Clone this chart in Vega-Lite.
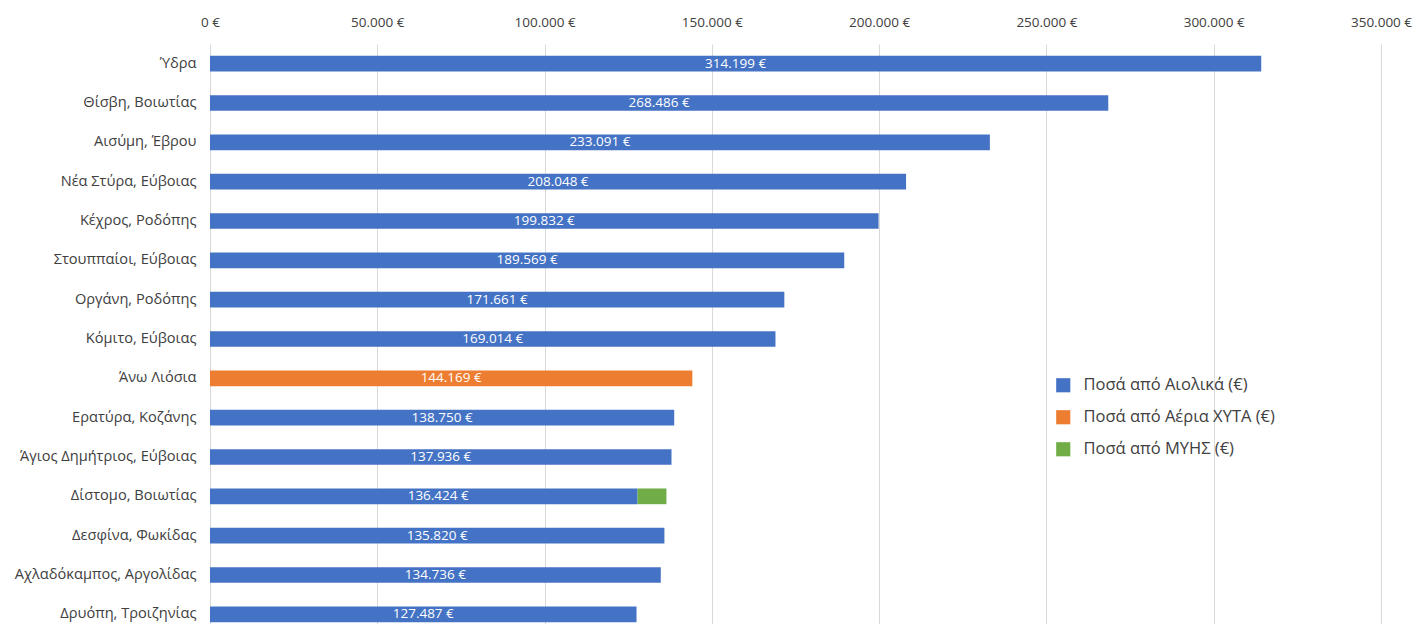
{
  "$schema": "https://vega.github.io/schema/vega-lite/v6.json",
  "autosize": {"type": "none"},
  "padding": {"left": 210, "top": 44, "right": 35, "bottom": 0},
  "width": 1171,
  "height": 590,
  "background": "white",
  "config": {
    "locale": {"number": {"decimal": ",", "thousands": ".", "grouping": [3], "currency": ["", " €"]}},
    "view": {"stroke": null},
    "font": "Open Sans"
  },
  "data": {
    "values": [
      {"place": "Ύδρα", "series": "Ποσά από Αιολικά (€)", "value": 314199},
      {"place": "Θίσβη, Βοιωτίας", "series": "Ποσά από Αιολικά (€)", "value": 268486},
      {"place": "Αισύμη, Έβρου", "series": "Ποσά από Αιολικά (€)", "value": 233091},
      {"place": "Νέα Στύρα, Εύβοιας", "series": "Ποσά από Αιολικά (€)", "value": 208048},
      {"place": "Κέχρος, Ροδόπης", "series": "Ποσά από Αιολικά (€)", "value": 199832},
      {"place": "Στουππαίοι, Εύβοιας", "series": "Ποσά από Αιολικά (€)", "value": 189569},
      {"place": "Οργάνη, Ροδόπης", "series": "Ποσά από Αιολικά (€)", "value": 171661},
      {"place": "Κόμιτο, Εύβοιας", "series": "Ποσά από Αιολικά (€)", "value": 169014},
      {"place": "Άνω Λιόσια", "series": "Ποσά από Αέρια ΧΥΤΑ (€)", "value": 144169},
      {"place": "Ερατύρα, Κοζάνης", "series": "Ποσά από Αιολικά (€)", "value": 138750},
      {"place": "Άγιος Δημήτριος, Εύβοιας", "series": "Ποσά από Αιολικά (€)", "value": 137936},
      {"place": "Δίστομο, Βοιωτίας", "series": "Ποσά από Αιολικά (€)", "value": 127800},
      {"place": "Δίστομο, Βοιωτίας", "series": "Ποσά από ΜΥΗΣ (€)", "value": 8624},
      {"place": "Δεσφίνα, Φωκίδας", "series": "Ποσά από Αιολικά (€)", "value": 135820},
      {"place": "Αχλαδόκαμπος, Αργολίδας", "series": "Ποσά από Αιολικά (€)", "value": 134736},
      {"place": "Δρυόπη, Τροιζηνίας", "series": "Ποσά από Αιολικά (€)", "value": 127487}
    ]
  },
  "encoding": {
    "y": {
      "field": "place",
      "type": "nominal",
      "sort": null,
      "scale": {"paddingInner": 0.6, "paddingOuter": 0.3},
      "axis": {"title": null, "domain": false, "ticks": false, "labelPadding": 14, "labelFontSize": 14.6, "labelColor": "#404040", "labelFont": "Open Sans", "labelLimit": 300}
    }
  },
  "layer": [
    {
      "mark": {"type": "bar"},
      "encoding": {
        "x": {
          "field": "value",
          "type": "quantitative",
          "aggregate": "sum",
          "stack": "zero",
          "scale": {"domain": [0, 350000], "nice": false},
          "axis": {
            "orient": "top",
            "title": null,
            "format": "$,.0f",
            "values": [0, 50000, 100000, 150000, 200000, 250000, 300000, 350000],
            "domain": false,
            "ticks": false,
            "labelPadding": 15,
            "labelFontSize": 13.5,
            "labelColor": "#404040",
            "gridColor": "#D9D9D9",
            "labelFlush": false
          }
        },
        "color": {
          "field": "series",
          "type": "nominal",
          "sort": ["Ποσά από Αιολικά (€)", "Ποσά από Αέρια ΧΥΤΑ (€)", "Ποσά από ΜΥΗΣ (€)"],
          "scale": {
            "domain": ["Ποσά από Αιολικά (€)", "Ποσά από Αέρια ΧΥΤΑ (€)", "Ποσά από ΜΥΗΣ (€)"],
            "range": ["#4472C4", "#ED7D31", "#70AD47"]
          },
          "legend": {
            "title": null,
            "orient": "none",
            "legendX": 845,
            "legendY": 333,
            "symbolType": "square",
            "symbolSize": 200,
            "symbolStrokeWidth": 0,
            "labelFontSize": 16.5,
            "labelColor": "#404040",
            "labelFont": "Open Sans",
            "labelLimit": 400,
            "rowPadding": 15,
            "labelOffset": 12
          }
        },
        "order": {"field": "series", "sort": "ascending"}
      }
    },
    {
      "transform": [
        {"aggregate": [{"op": "sum", "field": "value", "as": "total"}], "groupby": ["place"]},
        {"calculate": "datum.total / 2", "as": "mid"}
      ],
      "mark": {"type": "text", "color": "white", "fontSize": 13.5, "font": "Open Sans", "baseline": "middle"},
      "encoding": {
        "x": {"field": "mid", "type": "quantitative"},
        "text": {"field": "total", "type": "quantitative", "format": "$,.0f"}
      }
    }
  ]
}
